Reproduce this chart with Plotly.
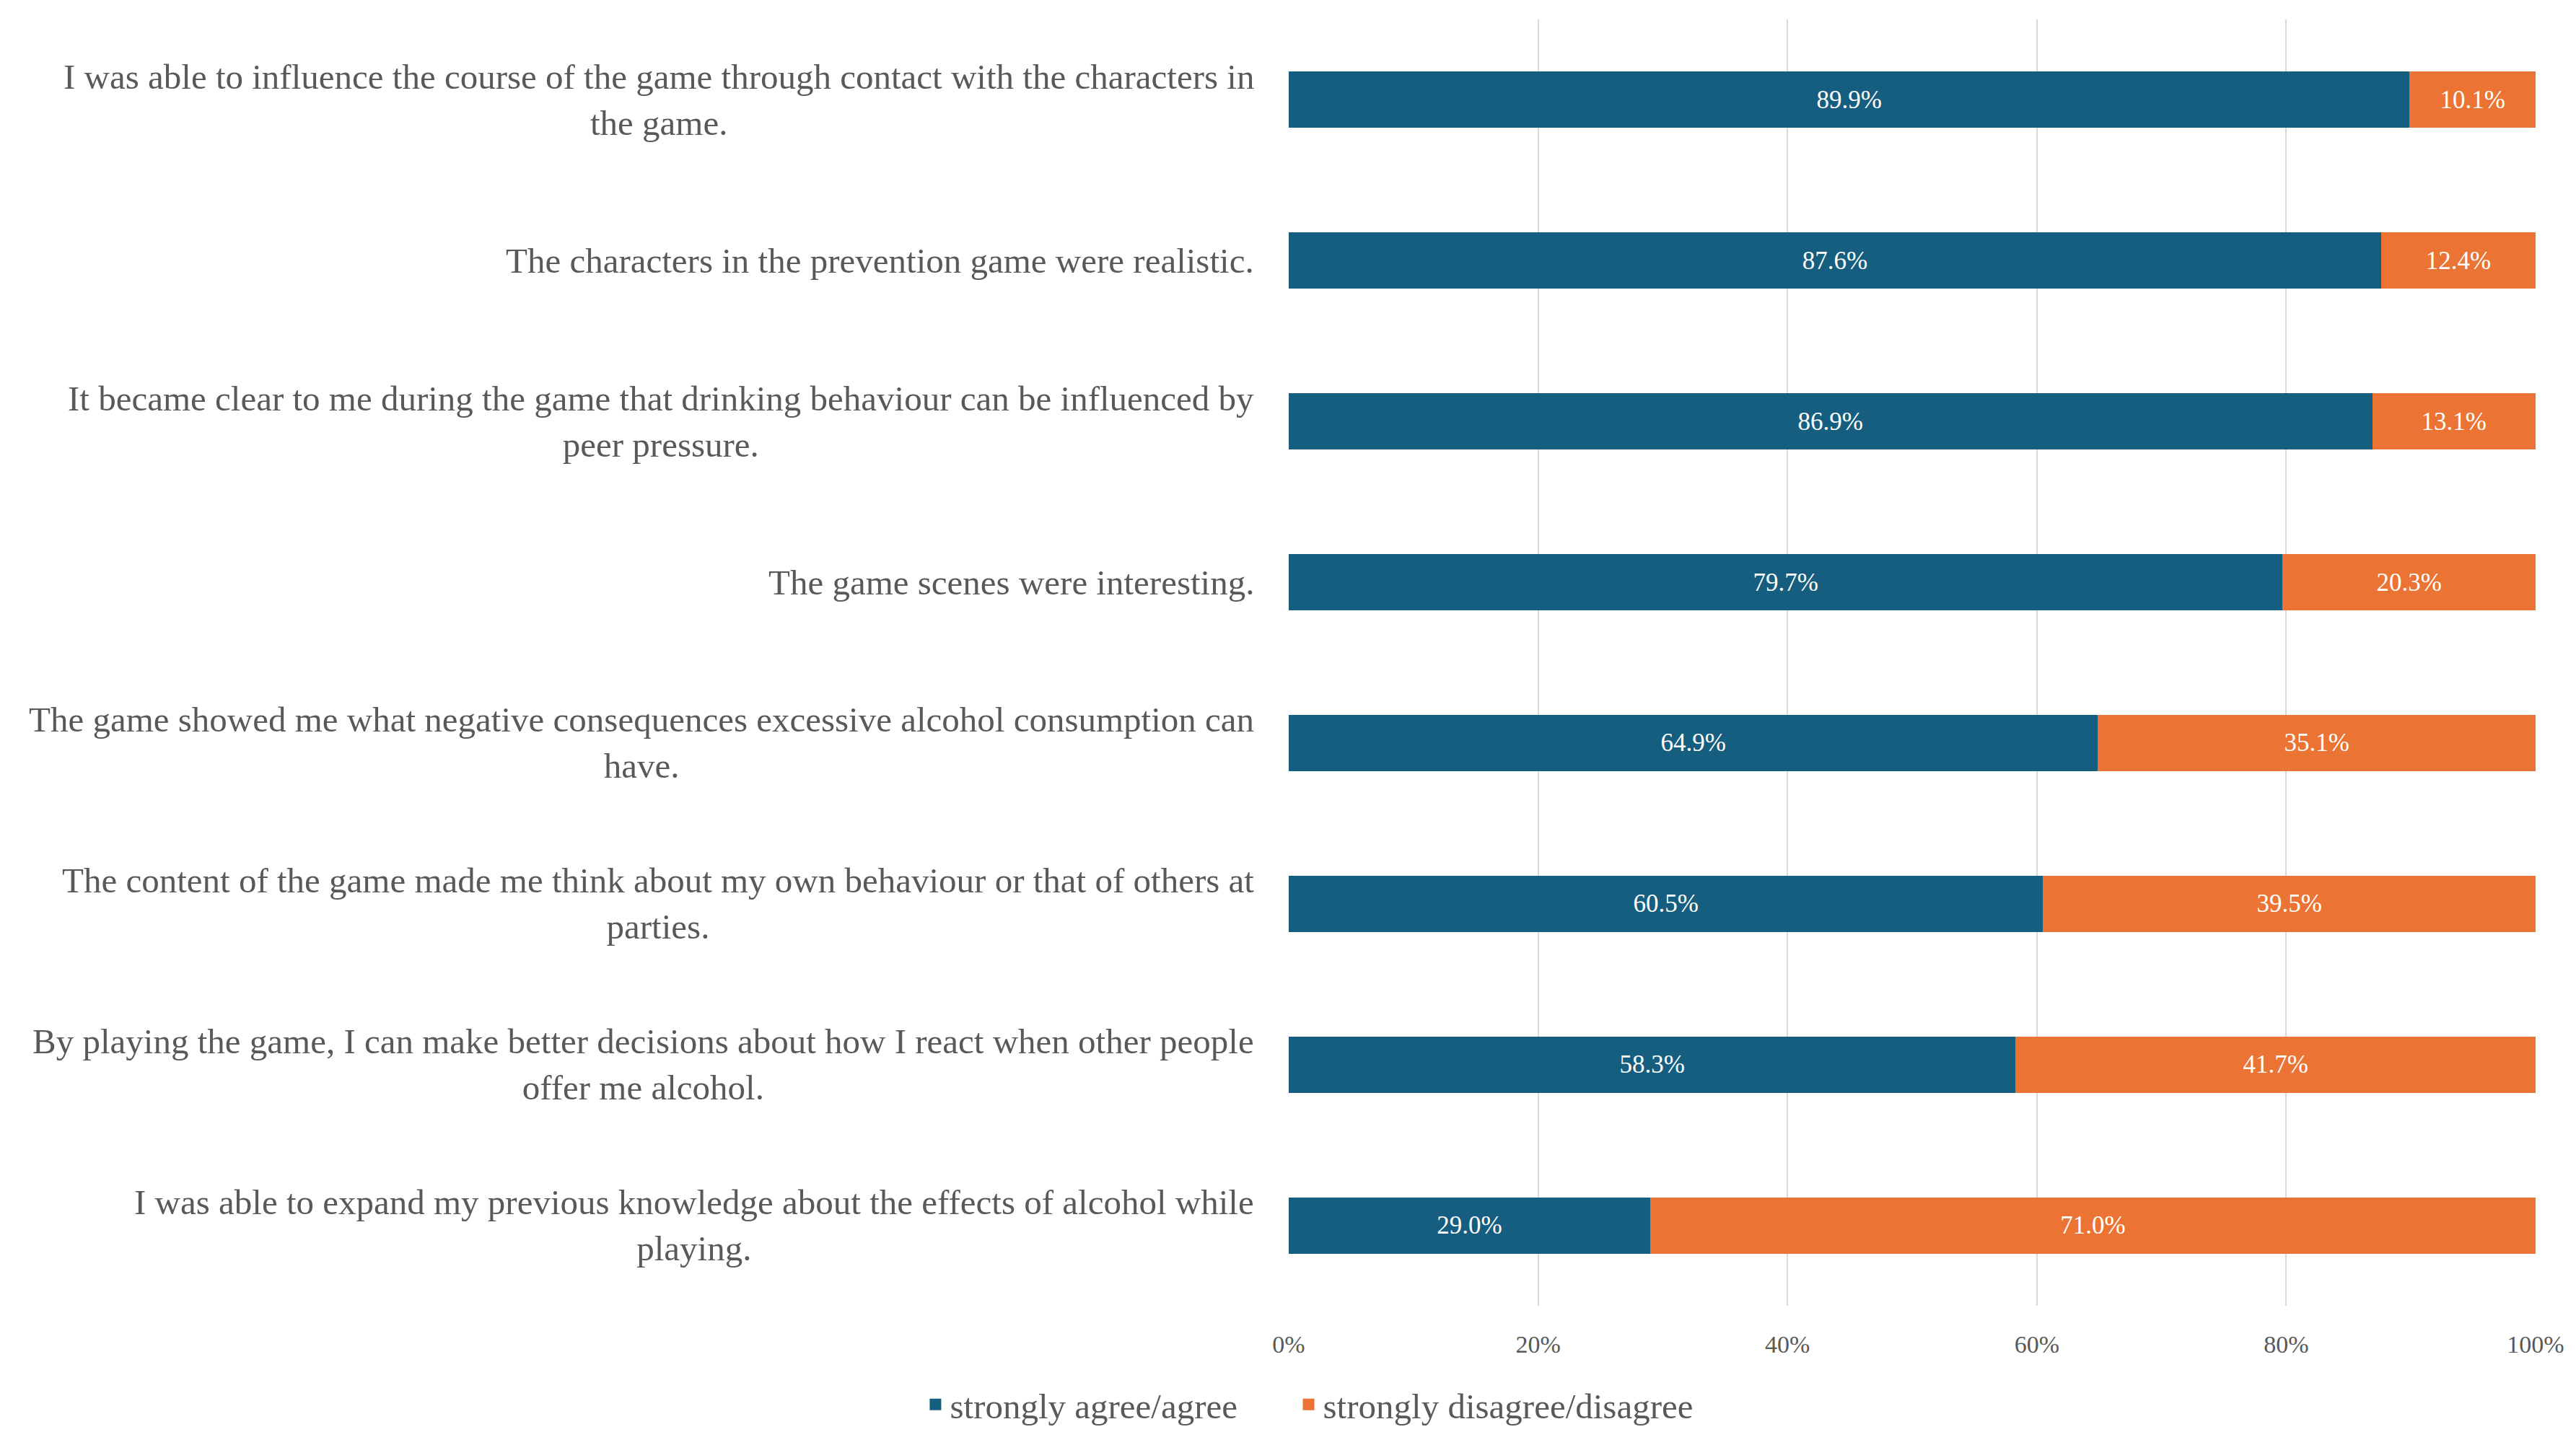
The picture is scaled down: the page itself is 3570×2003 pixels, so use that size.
import plotly.graph_objects as go

statements = [
    "I was able to influence the course of the game through contact with the characters in<br>the game.",
    "The characters in the prevention game were realistic.",
    "It became clear to me during the game that drinking behaviour can be influenced by<br>peer pressure.",
    "The game scenes were interesting.",
    "The game showed me what negative consequences excessive alcohol consumption can<br>have.",
    "The content of the game made me think about my own behaviour or that of others at<br>parties.",
    "By playing the game, I can make better decisions about how I react when other people<br>offer me alcohol.",
    "I was able to expand my previous knowledge about the effects of alcohol while<br>playing.",
]
agree = [89.9, 87.6, 86.9, 79.7, 64.9, 60.5, 58.3, 29.0]
disagree = [10.1, 12.4, 13.1, 20.3, 35.1, 39.5, 41.7, 71.0]
series_names = ["strongly agree/agree", "strongly disagree/disagree"]
x_ticks = [0, 20, 40, 60, 80, 100]
x_ticktext = ["0%", "20%", "40%", "60%", "80%", "100%"]

BLUE = "#165E80"
ORANGE = "#EB7333"
GREY = "#595959"
FONT = "Liberation Serif"
GAP = "\u00a0" * 6  # extra room between the two legend items

fig = go.Figure()
for vals, name, col, pad in [(agree, series_names[0], BLUE, GAP), (disagree, series_names[1], ORANGE, "")]:
    fig.add_trace(go.Bar(
        y=statements, x=vals, orientation="h", name=name, showlegend=False,
        marker=dict(color=col, line=dict(width=0)),
        texttemplate="%{x:.1f}%", textposition="inside", insidetextanchor="middle",
        textfont=dict(color="white", size=35, family=FONT),
    ))
    # bigger square legend keys
    fig.add_trace(go.Scatter(
        x=[None], y=[None], mode="markers", name=name + pad,
        marker=dict(symbol="square", size=16, color=col),
    ))

# category labels, centred lines like the original
for i, s in enumerate(statements):
    fig.add_annotation(
        text=s, xref="paper", yref="y", x=0, y=i, xanchor="right", yanchor="middle",
        xshift=-46, align="center", showarrow=False,
        font=dict(size=49, color=GREY, family=FONT),
    )

fig.update_layout(
    width=3570, height=2003,
    barmode="stack", bargap=0.65,
    plot_bgcolor="white", paper_bgcolor="white",
    margin=dict(l=1778, r=64, t=19, b=201),
    font=dict(family=FONT, color=GREY),
    uniformtext=dict(minsize=35, mode="show"),
    legend=dict(
        orientation="h", xref="container", yref="container",
        x=0.506, y=0.032, xanchor="center", yanchor="middle",
        font=dict(size=49, color=GREY, family=FONT),
        itemsizing="trace", traceorder="normal", itemwidth=30,
    ),
)
fig.update_xaxes(
    range=[0, 100], tickvals=x_ticks, ticktext=x_ticktext,
    showgrid=True, gridcolor="#D9D9D9", gridwidth=2,
    zeroline=False, showline=False,
    ticks="", ticklabelstandoff=30,
    tickfont=dict(size=34, color=GREY, family=FONT),
)
fig.update_yaxes(
    categoryorder="array", categoryarray=statements, autorange="reversed",
    showticklabels=False, showgrid=False, zeroline=False, showline=False,
)

fig.write_html("out.html")
